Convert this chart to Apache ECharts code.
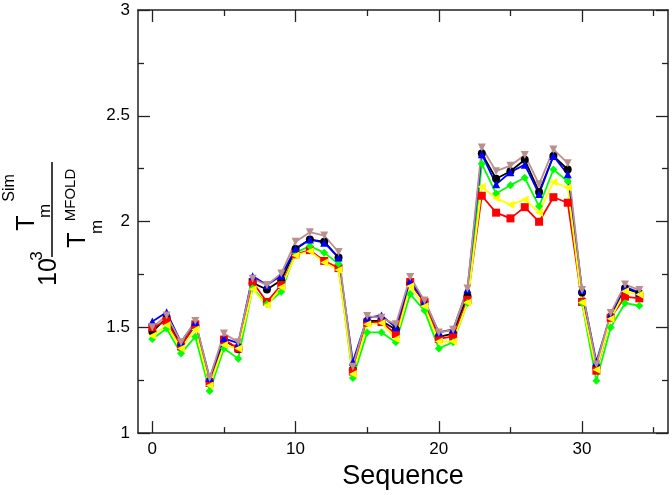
<!DOCTYPE html>
<html>
<head>
<meta charset="utf-8">
<script src="https://cdn.jsdelivr.net/npm/echarts@6/dist/echarts.min.js"></script>
<style>html,body{margin:0;padding:0;background:#fff;}#c{width:672px;height:495px;}</style>
</head>
<body>
<div id="c"></div>
<script>
const sequence = [0,1,2,3,4,5,6,7,8,9,10,11,12,13,14,15,16,17,18,19,20,21,22,23,24,25,26,27,28,29,30,31,32,33,34];
const blackSet  = [1.48,1.545,1.415,1.51,1.245,1.44,1.396,1.71,1.679,1.722,1.87,1.915,1.905,1.83,1.30,1.53,1.53,1.49,1.71,1.62,1.455,1.47,1.648,2.322,2.202,2.238,2.292,2.14,2.31,2.246,1.665,1.31,1.55,1.685,1.66];
const redSet    = [1.50,1.53,1.41,1.514,1.237,1.442,1.40,1.714,1.62,1.70,1.845,1.865,1.814,1.78,1.291,1.522,1.525,1.468,1.714,1.62,1.445,1.457,1.63,2.122,2.042,2.015,2.068,1.999,2.115,2.089,1.62,1.295,1.545,1.645,1.637];
const greenSet  = [1.445,1.494,1.376,1.456,1.199,1.40,1.352,1.685,1.61,1.668,1.853,1.884,1.853,1.80,1.26,1.476,1.476,1.43,1.657,1.579,1.40,1.43,1.615,2.273,2.133,2.172,2.207,2.072,2.246,2.19,1.615,1.248,1.499,1.614,1.602];
const blueSet   = [1.527,1.571,1.43,1.525,1.26,1.448,1.425,1.742,1.70,1.745,1.872,1.915,1.90,1.83,1.337,1.545,1.556,1.50,1.72,1.625,1.476,1.49,1.68,2.318,2.176,2.233,2.269,2.13,2.31,2.223,1.676,1.337,1.56,1.691,1.664];
const yellowSet = [1.46,1.51,1.40,1.49,1.225,1.417,1.40,1.68,1.604,1.69,1.84,1.86,1.807,1.771,1.279,1.514,1.52,1.445,1.694,1.60,1.433,1.433,1.617,2.164,2.11,2.08,2.104,2.042,2.187,2.161,1.617,1.299,1.54,1.67,1.655];
const brownSet  = [1.50,1.556,1.43,1.53,1.26,1.471,1.43,1.73,1.70,1.755,1.905,1.95,1.934,1.856,1.314,1.553,1.545,1.514,1.738,1.627,1.476,1.488,1.684,2.35,2.238,2.264,2.315,2.176,2.341,2.276,1.676,1.325,1.568,1.703,1.676];
const xMajorTicks = [0,10,20,30];
const xMinorTicks = [5,15,25,35];

const FONT = '"Liberation Sans", Arial, Helvetica, sans-serif';
const AX = '#222';

function mk(vals, color, symbol, rot) {
  return {
    type: 'line',
    data: sequence.map((x, i) => [x, vals[i]]),
    symbol: symbol,
    symbolSize: 8,
    symbolRotate: rot || 0,
    itemStyle: { color: color },
    lineStyle: { color: color, width: 1.8 },
    animation: false,
    z: 3
  };
}

function xAx(pos, ticks, len, labels, line) {
  return {
    type: 'value', position: pos, min: -1, max: 36,
    splitLine: { show: false },
    axisLine: { show: line, onZero: false, lineStyle: { color: AX, width: 1.5 } },
    axisTick: { show: true, inside: true, length: len, customValues: ticks, lineStyle: { color: AX, width: 1.3 } },
    axisLabel: labels ? { show: true, customValues: ticks, color: '#000', fontSize: 17, fontFamily: FONT, margin: 8 } : { show: false }
  };
}
function yAx(pos, labels) {
  return {
    type: 'value', position: pos, min: 1, max: 3, interval: 0.5,
    splitLine: { show: false },
    axisLine: { show: true, onZero: false, lineStyle: { color: AX, width: 1.5 } },
    axisTick: { show: true, inside: true, length: 12, lineStyle: { color: AX, width: 1.3 } },
    minorTick: { show: true, splitNumber: 2, length: 6, lineStyle: { color: AX, width: 1.3 } },
    axisLabel: labels ? { show: true, color: '#000', fontSize: 17, fontFamily: FONT, margin: 8 } : { show: false }
  };
}

const xb = xAx('bottom', xMajorTicks, 12, true, true);
xb.name = 'Sequence';
xb.nameLocation = 'middle';
xb.nameGap = 23;
xb.nameTextStyle = { color: '#000', fontSize: 27, fontFamily: FONT };

const R = Math.PI / 2;
function t(txt, x, y, size) {
  return { type: 'text', x: x, y: y, rotation: R,
    style: { text: txt, fill: '#000', font: size + 'px ' + FONT, align: 'center', verticalAlign: 'middle' } };
}

const chart = echarts.init(document.getElementById('c'), null, { renderer: 'canvas' });
chart.setOption({
  animation: false,
  backgroundColor: '#fff',
  grid: { left: 138, right: 4, top: 10, bottom: 52 },
  xAxis: [xb, xAx('bottom', xMinorTicks, 6, false, false), xAx('top', xMajorTicks, 12, false, true), xAx('top', xMinorTicks, 6, false, false)],
  yAxis: [yAx('left', true), yAx('right', false)],
  series: [
    mk(blackSet, '#000000', 'circle'),
    mk(redSet, '#ff0000', 'rect'),
    mk(greenSet, '#00ff00', 'diamond'),
    mk(blueSet, '#0000ff', 'triangle'),
    mk(yellowSet, '#ffff00', 'triangle', 90),
    mk(brownSet, '#bc8f8f', 'triangle', 180)
  ],
  graphic: [
    t('10', 49, 272, 25),
    t('3', 37, 256, 17),
    t('T', 27, 223, 25),
    t('Sim', 10, 188, 16),
    t('m', 45, 211, 17),
    { type: 'line', shape: { x1: 52, y1: 162, x2: 52, y2: 257 }, style: { stroke: '#000', lineWidth: 1.5 } },
    t('T', 78, 240, 25),
    t('MFOLD', 71, 195, 15),
    t('m', 97, 227, 17)
  ]
});
</script>
</body>
</html>
